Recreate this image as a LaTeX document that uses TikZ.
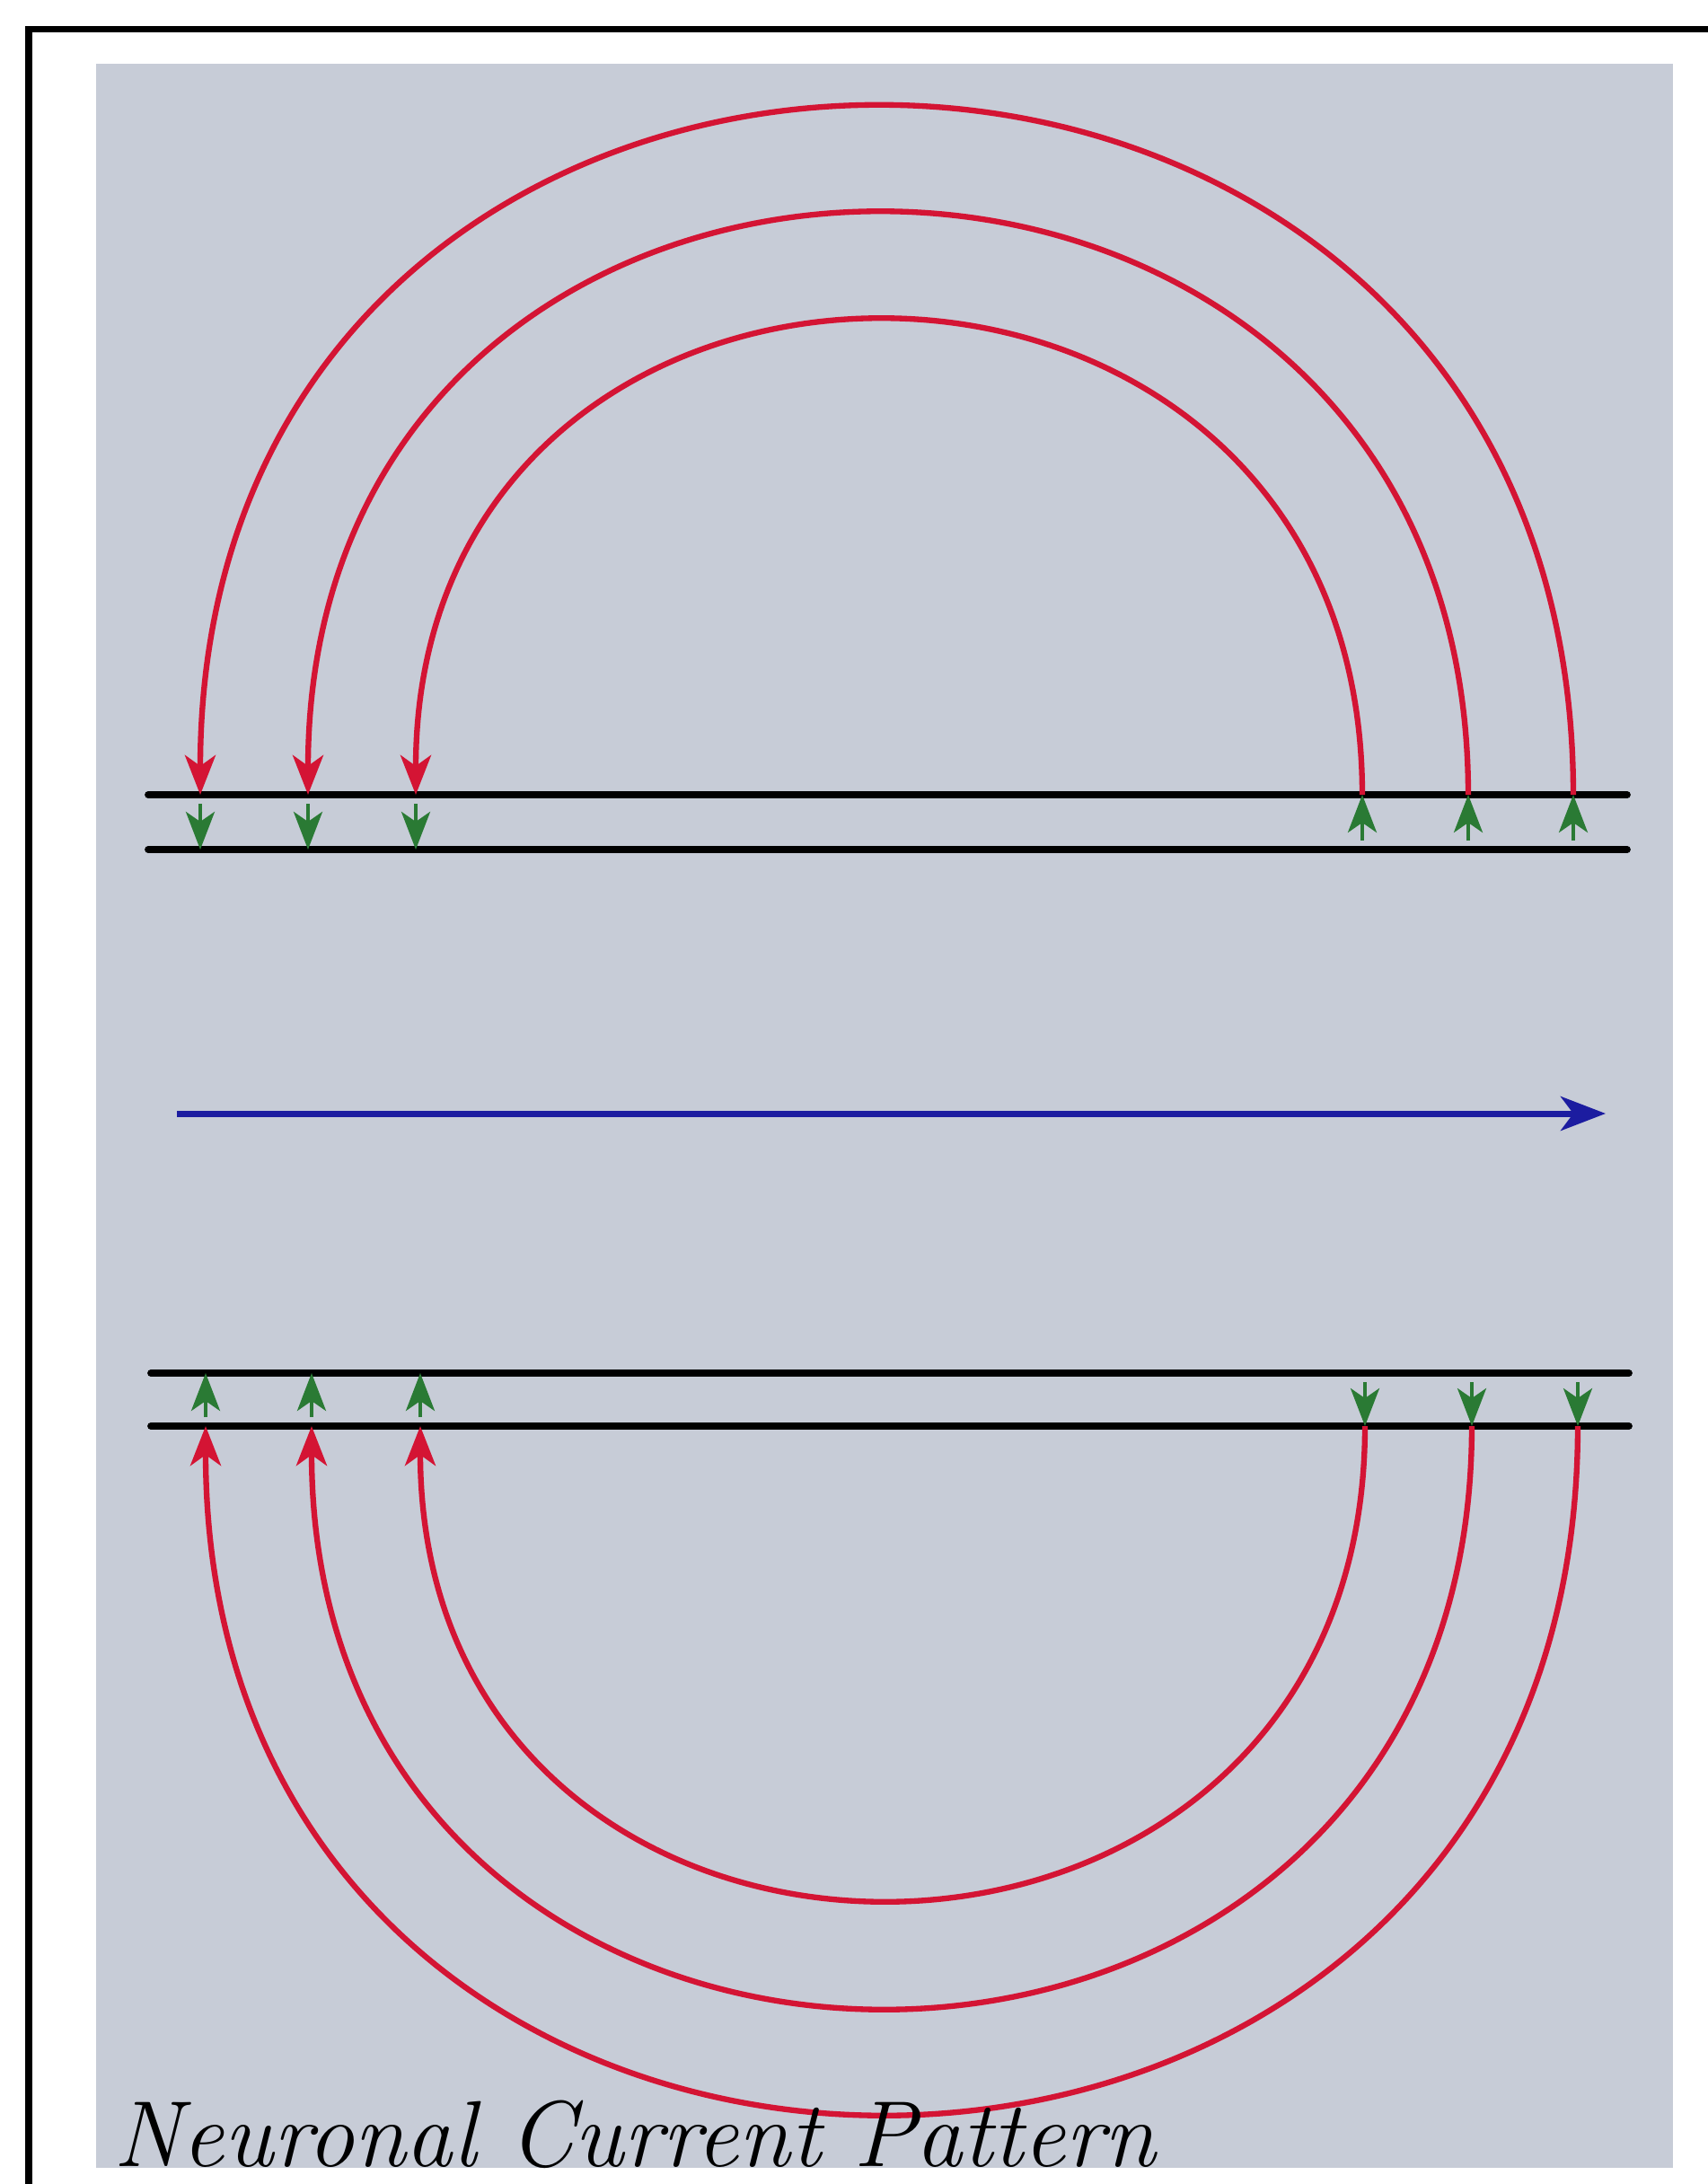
\documentclass[tikz,border=0pt]{standalone}
\usetikzlibrary{arrows.meta}
\definecolor{panelgray}{RGB}{199,204,215}
\definecolor{currentred}{RGB}{212,20,52}
\definecolor{iongreen}{RGB}{42,122,52}
\definecolor{axisblue}{RGB}{28,28,160}
\begin{document}
\begin{tikzpicture}[x=1cm,y=-1cm,
  membrane/.style={line width=2.2pt,black,line cap=round},
  loopline/.style={line width=1.8pt,currentred,-{Stealth[length=4.4mm,width=3.4mm,inset=1.2mm]}},
  ionline/.style={line width=1.2pt,iongreen,-{Stealth[length=4.2mm,width=3.2mm,inset=1.1mm]}}]
  \useasboundingbox (0,0) rectangle (19.01,24.32);
  \draw[line width=2pt] (0.32,25) |- (20,0.32);
  \fill[panelgray] (1.07,0.71) rectangle (18.63,24.14);
  % membrane, outer pair and inner pair
  \draw[membrane] (1.65,8.85) -- (18.12,8.85); \draw[membrane] (1.65,9.46) -- (18.12,9.46);
  \draw[membrane] (1.68,15.29) -- (18.14,15.29); \draw[membrane] (1.68,15.88) -- (18.14,15.88);
  % return currents above
  \foreach \l/\r in {2.23/17.52,3.43/16.35,4.63/15.17}{
    \pgfmathsetmacro\h{(\r-\l)*2/3}
    \draw[loopline] (\r,8.85) .. controls +(0,-\h) and +(0,-\h) .. (\l,8.85);
    \draw[ionline] (\l,8.95) -- (\l,9.46); \draw[ionline] (\r,9.36) -- (\r,8.85);
  }
  % return currents below
  \foreach \l/\r in {2.29/17.57,3.47/16.39,4.68/15.20}{
    \pgfmathsetmacro\h{(\r-\l)*2/3}
    \draw[loopline] (\r,15.88) .. controls +(0,\h) and +(0,\h) .. (\l,15.88);
    \draw[ionline] (\l,15.78) -- (\l,15.29); \draw[ionline] (\r,15.39) -- (\r,15.88);
  }
  \draw[line width=2pt,axisblue,-{Stealth[length=5mm,width=3.8mm,inset=1.4mm]}] (1.97,12.40) -- (17.88,12.40);
  \node[anchor=base west,inner sep=0pt,font=\fontsize{29.7}{32}\selectfont\itshape] (title) at (1.26,24.12) {Neuronal Current Pattern};
\end{tikzpicture}
\end{document}
